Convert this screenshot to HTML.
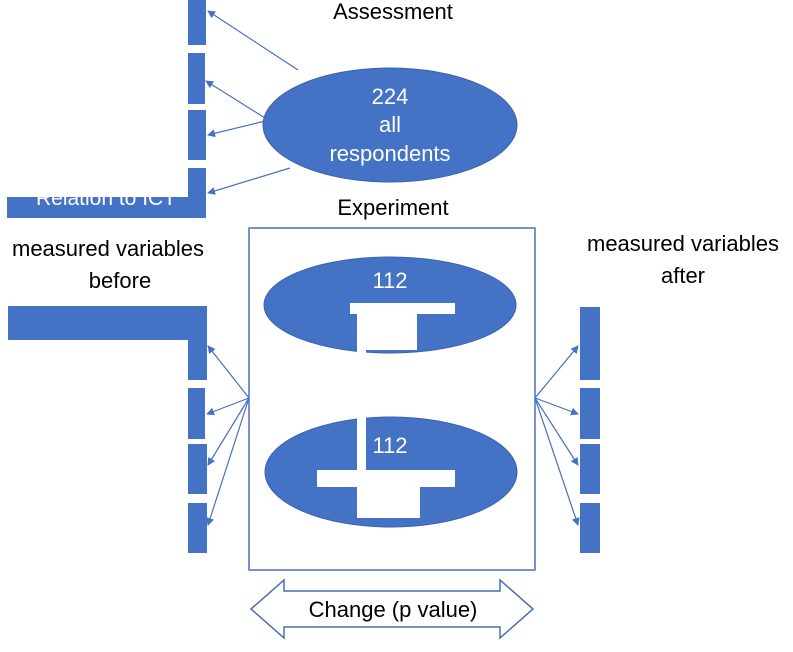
<!DOCTYPE html>
<html><head><style>
body{margin:0;background:#fff;width:793px;height:647px;overflow:hidden}
svg text{font-family:"Liberation Sans",sans-serif}
</style></head><body>
<svg width="793" height="647" viewBox="0 0 793 647" xmlns="http://www.w3.org/2000/svg">
<defs><marker id="a" markerWidth="8" markerHeight="8" refX="7" refY="4" orient="auto" markerUnits="userSpaceOnUse"><path d="M0,0 L8,4 L0,8 z" fill="#4472c4"/></marker></defs>
<g fill="#4472c4">
<rect x="188" y="0" width="18" height="45"/>
<rect x="188" y="53" width="17" height="51"/>
<rect x="188" y="110" width="18" height="50"/>
<rect x="188" y="168" width="18" height="50"/>
<rect x="7" y="195" width="199" height="23"/>
</g>
<text x="106" y="205" fill="#fff" font-size="21" text-anchor="middle">Relation to ICT</text>
<rect x="0" y="0" width="188" height="197" fill="#fff"/>
<g stroke="#4472c4" stroke-width="1.2" marker-end="url(#a)">
<line x1="298" y1="70" x2="208" y2="11"/>
<line x1="265" y1="118" x2="206" y2="81"/>
<line x1="265" y1="121" x2="208" y2="135"/>
<line x1="290" y1="168" x2="208" y2="193"/>
</g>
<ellipse cx="390" cy="125" rx="127" ry="57" fill="#4472c4" stroke="#3b63ad"/>
<g fill="#fff" font-size="22" text-anchor="middle">
<text x="390" y="104">224</text><text x="390" y="132">all</text><text x="390" y="161">respondents</text>
</g>
<g fill="#000" font-size="22" text-anchor="middle">
<text x="393" y="19">Assessment</text>
<text x="393" y="215">Experiment</text>
<text x="108" y="256">measured variables</text>
<text x="120" y="288">before</text>
<text x="683" y="251">measured variables</text>
<text x="683" y="283">after</text>
</g>
<rect x="249" y="228" width="286" height="342" fill="#fff" stroke="#4a6fb5" stroke-width="1.5"/>
<g fill="#4472c4">
<rect x="8" y="306" width="199" height="34"/>
<rect x="188" y="306" width="19" height="74"/>
<rect x="188" y="388" width="17" height="51"/>
<rect x="188" y="444" width="19" height="50"/>
<rect x="188" y="503" width="19" height="50"/>
<rect x="580" y="307" width="20" height="73"/>
<rect x="580" y="388" width="20" height="51"/>
<rect x="580" y="444" width="20" height="50"/>
<rect x="580" y="503" width="20" height="50"/>
</g>
<g stroke="#4472c4" stroke-width="1.2" marker-end="url(#a)">
<line x1="249" y1="398" x2="208" y2="346"/>
<line x1="249" y1="398" x2="207" y2="414"/>
<line x1="249" y1="398" x2="208" y2="465"/>
<line x1="249" y1="398" x2="208" y2="525"/>
<line x1="535" y1="398" x2="578" y2="346"/>
<line x1="535" y1="398" x2="578" y2="414"/>
<line x1="535" y1="398" x2="578" y2="465"/>
<line x1="535" y1="398" x2="578" y2="525"/>
</g>
<ellipse cx="390" cy="305" rx="126" ry="48" fill="#4472c4" stroke="#3b63ad"/>
<ellipse cx="391" cy="472" rx="126" ry="55" fill="#4472c4" stroke="#3b63ad"/>
<g fill="#fff" font-size="22" text-anchor="middle">
<text x="390" y="288">112</text>
<text x="390" y="453">112</text>
</g>
<g fill="#fff">
<rect x="350" y="303" width="105" height="11"/>
<rect x="357" y="313" width="60" height="37"/>
<rect x="357" y="348" width="9" height="126"/>
<rect x="317" y="470" width="138" height="17"/>
<rect x="357" y="486" width="63" height="32"/>
</g>
<path d="M251,609 L284,580 L284,591 L500,591 L500,580 L533,609 L500,638 L500,627 L284,627 L284,638 Z" fill="#fff" stroke="#4a6fb5" stroke-width="1.5"/>
<text x="393" y="617" font-size="22" text-anchor="middle" fill="#000">Change (p value)</text>
</svg>
</body></html>
